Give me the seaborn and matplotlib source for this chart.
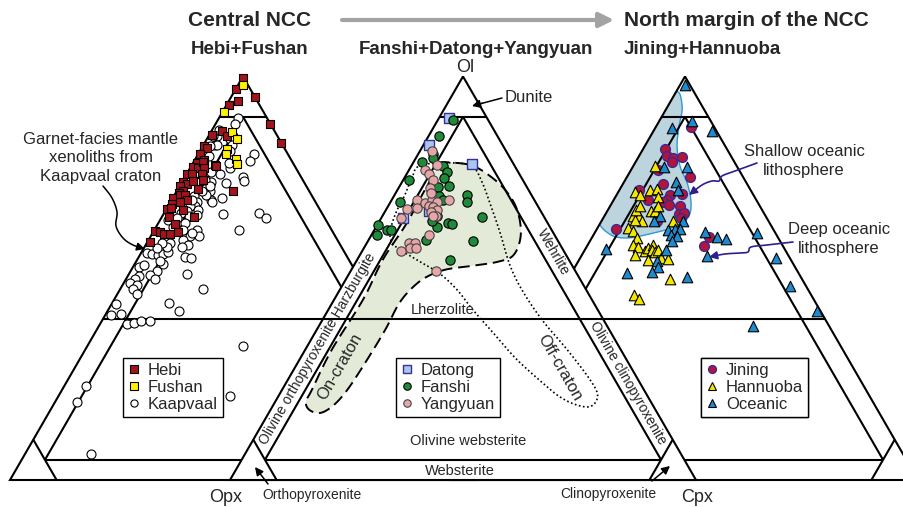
import numpy as np
import pandas as pd
import matplotlib
matplotlib.use("Agg")
import matplotlib.pyplot as plt
import seaborn as sns
from matplotlib.patches import Polygon
from matplotlib.lines import Line2D

sns.set_style("white")
plt.rcParams["font.family"] = ["Liberation Sans", "DejaVu Sans"]

# ---------------------------------------------------------------- data
# modal compositions in percent: olivine (Ol) and clinopyroxene (Cpx);
# orthopyroxene is the remainder (Opx = 100 - Ol - Cpx)

# Central NCC: Hebi + Fushan, with Kaapvaal garnet-facies xenoliths
hebi_ol = [99.5, 97.0, 94.0, 93.0, 94.8, 88.3, 83.6, 85.6, 86.4, 85.2, 82.7, 82.3, 78.0,
           80.9, 78.6, 79.4, 77.6, 77.3, 78.7, 77.3, 77.9, 75.8, 75.7, 75.7, 73.8, 73.4,
           74.0, 74.3, 72.8, 71.5, 72.2, 71.1, 70.0, 70.7, 70.7, 69.5, 68.4, 69.0, 67.2,
           67.4, 67.0, 65.2, 65.1, 63.4, 61.8, 61.4, 61.0, 61.0, 61.5, 58.9, 71.7]
hebi_cpx = [0.3, 0.0, 1.9, 0.5, 5.2, 11.6, 16.4, 0.5, 2.3, 3.9, 0.2, 1.1, 5.0,
            0.4, 0.8, 1.9, 0.5, 1.7, 2.0, 2.9, 5.3, 0.1, 1.3, 3.4, 0.3, 1.3,
            2.3, 4.3, 0.1, 1.4, 4.3, 0.8, 0.0, 1.1, 2.1, 3.2, 0.5, 2.0, 0.0,
            0.9, 3.7, 1.6, 6.9, 3.7, 0.2, 1.5, 2.6, 3.8, 5.2, 0.6, 12.1]

fushan_ol = [98.0, 91.1, 86.3, 84.4, 82.1, 80.8, 79.6, 78.3]
fushan_cpx = [1.0, 0.4, 4.5, 6.6, 5.5, 5.9, 8.7, 9.6]

kaapvaal_ol = [89.7, 88.3, 86.8, 85.2, 82.9, 80.9, 79.0, 77.3, 75.9, 75.2, 74.2, 73.6, 73.8,
               70.0, 69.5, 68.9, 65.9, 66.2, 64.9, 62.0, 62.0, 60.4, 56.2, 56.1, 55.8, 56.1,
               56.6, 55.3, 55.0, 53.6, 52.9, 53.3, 51.9, 50.9, 49.8, 50.6, 49.8, 48.8, 48.4,
               47.3, 46.1, 51.1, 47.4, 43.8, 42.0, 43.7, 41.2, 40.8, 38.7, 38.9, 39.3, 39.5,
               33.3, 20.7, 23.4, 19.4, 6.5,
               72.4, 71.5, 70.7, 70.3, 69.0, 67.8, 67.0, 67.8, 66.6, 65.7, 65.3, 64.1, 63.7,
               60.4, 59.5, 58.3, 57.7, 58.7, 57.7, 58.7, 57.5, 54.2,
               81.5, 80.2, 77.7, 76.3, 75.7, 74.4, 72.8, 71.5, 69.5, 66.2, 64.9, 64.5, 62.8,
               62.0, 61.2, 85.2, 84.4, 83.1, 81.5, 78.6, 85.2, 83.1, 82.7]
kaapvaal_cpx = [4.0, 4.1, 1.5, 1.8, 2.5, 12.0, 11.9, 8.6, 7.1, 12.3, 13.2, 9.5, 6.2,
                10.4, 8.3, 8.9, 12.8, 20.4, 22.5, 18.1, 9.1, 10.4, 1.2, 2.4, 3.9, 4.8,
                5.7, 9.9, 11.3, 6.1, 1.3, 2.2, 5.5, 4.6, 6.2, 2.4, 1.9, 1.4, 3.0,
                2.8, 4.1, 12.4, 17.7, 12.2, 15.3, 1.0, 3.2, 1.2, 5.7, 7.2, 8.5, 10.3,
                33.3, 36.9, 4.6, 4.6, 14.1,
                5.8, 7.2, 6.7, 4.4, 5.6, 5.8, 6.9, 4.7, 4.6, 7.2, 5.8, 4.4, 5.7,
                8.4, 7.4, 9.1, 8.0, 5.0, 4.8, 3.2, 2.7, 5.1,
                1.3, 2.7, 2.6, 4.9, 2.9, 4.6, 6.5, 5.4, 4.2, 3.7, 3.3, 1.7, 3.6,
                6.2, 8.4, 5.3, 5.0, 6.0, 6.5, 7.8, 1.0, 2.8, 1.6]

# Central NCC: Fanshi + Datong + Yangyuan
datong_ol = [89.6, 83.0, 78.2, 64.9, 66.7]
datong_cpx = [2.3, 1.1, 12.8, 4.7, 9.4]

fanshi_ol = [89.1, 85.3, 80.9, 79.8, 78.8, 77.7, 76.3, 74.9, 74.4, 72.8, 72.6, 70.3, 69.5,
             70.7, 69.0, 68.9, 65.1, 63.7, 63.4, 62.7, 64.1, 63.1, 61.9, 62.0, 60.8, 59.4,
             59.1, 54.5, 65.5]
fanshi_cpx = [3.4, 2.1, 3.1, 3.7, 1.7, 6.9, 8.4, 8.5, 1.2, 10.7, 8.4, 9.8, 11.0,
              15.5, 16.4, 2.1, 21.5, 15.0, 15.9, 13.1, 11.4, 0.3, 2.7, 3.5, 1.1, 12.4,
              22.5, 20.0, 11.7]

yangyuan_ol = [81.4, 78.1, 76.9, 75.7, 74.4, 72.4, 69.5, 68.6, 69.3, 69.0, 69.5, 67.8, 67.7,
               67.0, 66.5, 65.3, 67.4, 64.9, 60.8, 58.7, 58.8, 57.4, 57.5, 56.8, 51.9, 67.2,
               65.5, 71.1]
yangyuan_cpx = [2.7, 5.4, 3.4, 4.9, 6.4, 6.8, 5.4, 7.5, 8.6, 9.9, 12.2, 8.7, 9.8,
                10.9, 9.9, 11.5, 6.4, 4.2, 12.2, 9.0, 10.4, 9.9, 11.2, 8.4, 18.2, 4.3,
                10.9, 7.5]

# On-craton and off-craton fields (outline vertices, Ol / Cpx %)
on_craton_ol = [78.6, 78.6, 77.9, 75.7, 71.9, 67.0, 60.8, 55.8, 54.1, 53.1, 52.1, 50.1, 47.1,
                43.4, 37.2, 29.3, 22.3, 18.4, 16.6, 17.4, 19.4, 22.3, 32.3, 44.7, 54.6, 63.3,
                70.7, 76.9]
on_craton_cpx = [5.3, 9.0, 13.0, 17.5, 23.1, 28.1, 32.0, 33.0, 30.5, 25.6, 20.1, 16.8, 15.1,
                 14.4, 14.7, 14.5, 14.0, 12.9, 11.0, 8.3, 6.6, 6.4, 5.7, 6.2, 5.5, 6.1,
                 5.9, 5.8]
off_craton_ol = [77.9, 78.6, 77.7, 73.9, 67.7, 61.3, 53.3, 47.1, 39.7, 32.3, 25.6, 21.6, 19.1,
                 18.1, 18.9, 20.6, 23.1, 29.8, 36.5, 42.2, 47.1, 51.1, 54.1, 57.1, 58.8, 61.5,
                 66.2, 70.7, 74.9]
off_craton_cpx = [1.8, 7.9, 13.1, 17.1, 22.2, 27.3, 33.4, 39.1, 47.1, 56.2, 64.0, 68.0, 68.8,
                  67.6, 64.2, 60.5, 56.5, 46.7, 38.2, 31.0, 25.2, 19.5, 13.7, 7.9, 5.4, 3.6,
                  2.5, 2.2, 1.6]

# North margin: Jining + Hannuoba, with oceanic peridotites
jining_ol = [87.4, 82.0, 80.3, 79.8, 78.7, 80.1, 75.2, 76.9, 73.4, 71.8, 69.5, 70.7, 69.3,
             68.8, 68.1, 68.0, 70.9, 66.0, 66.1, 64.9, 64.3, 62.3, 60.1, 58.1]
jining_cpx = [7.5, 4.8, 6.0, 7.6, 7.8, 9.4, 13.4, 5.7, 8.6, 4.3, 7.4, 11.4, 11.4,
              10.9, 12.5, 14.9, 14.0, 15.7, 16.8, 16.6, 11.8, 4.0, 25.0, 25.0]

hannuoba_ol = [77.7, 71.4, 70.7, 71.9, 72.2, 70.2, 65.4, 65.3, 64.1, 64.5, 66.6, 66.6, 67.8,
               64.3, 62.4, 61.6, 60.0, 58.3, 57.7, 56.8, 57.5, 58.3, 56.9, 56.4, 57.1, 54.6,
               55.0, 54.8, 49.9, 55.8, 45.9, 44.9, 67.0, 67.8]
hannuoba_cpx = [4.7, 3.6, 5.1, 6.6, 7.9, 9.2, 6.2, 7.5, 8.7, 7.0, 9.3, 10.3, 10.4,
                15.3, 6.6, 8.1, 9.8, 9.6, 11.1, 13.0, 13.4, 13.9, 14.4, 15.4, 15.7, 14.8,
                17.4, 19.0, 21.8, 11.4, 16.1, 17.6, 6.0, 6.4]

oceanic_ol = [97.8, 88.9, 86.6, 87.1, 77.6, 77.6, 73.8, 71.9, 64.1, 65.3, 64.1, 62.0, 62.2,
              62.2, 60.8, 60.4, 59.1, 61.4, 60.3, 59.8, 55.6, 56.9, 54.2, 52.8, 51.5, 51.3,
              50.4, 57.3, 61.2, 54.9, 48.1, 41.8, 38.2]
oceanic_cpx = [1.1, 7.1, 12.6, 3.6, 11.6, 6.8, 11.2, 12.5, 17.6, 12.0, 11.2, 15.4, 16.8,
               17.8, 16.7, 18.0, 17.7, 23.6, 26.8, 29.0, 26.9, 17.4, 16.8, 17.9, 17.1, 11.8,
               25.3, 4.5, 34.8, 42.0, 48.5, 57.4, 45.4]

# Shallow oceanic lithosphere field (curved edge; closes along the Ol-Opx side)
shallow_ol = [96.3, 95.5, 91.8, 87.6, 82.6, 77.7, 73.7, 69.5, 66.2, 64.0, 62.3, 61.0, 60.0,
              60.3, 61.8, 63.3]
shallow_cpx = [0.0, 1.2, 3.5, 4.9, 7.0, 10.1, 13.6, 16.5, 18.0, 17.8, 15.6, 12.0, 8.2,
               4.8, 1.9, 0.0]

# ---------------------------------------------------------------- geometry
SIDE = 466.0
HEIGHT = SIDE * np.sqrt(3) / 2
BASE = 480.0
X_LEFT, X_MID, X_RIGHT = 10.0, 230.0, 452.0


def tern(ol, cpx, x0):
    ol = np.asarray(ol, float)
    cpx = np.asarray(cpx, float)
    x = x0 + (cpx + ol / 2) / 100 * SIDE
    y = BASE - ol / 100 * HEIGHT
    return x, y


def catmull(pts, n=10, closed=True):
    pts = np.asarray(pts, float)
    N = len(pts)
    out = []
    rng = range(N) if closed else range(N - 1)
    for i in rng:
        if closed:
            p0, p1, p2, p3 = pts[(i - 1) % N], pts[i], pts[(i + 1) % N], pts[(i + 2) % N]
        else:
            p0 = pts[max(i - 1, 0)]
            p1, p2 = pts[i], pts[i + 1]
            p3 = pts[min(i + 2, N - 1)]
        for t in np.linspace(0, 1, n, endpoint=False):
            t2, t3 = t * t, t * t * t
            out.append(0.5 * ((2 * p1) + (-p0 + p2) * t + (2 * p0 - 5 * p1 + 4 * p2 - p3) * t2
                              + (-p0 + 3 * p1 - 3 * p2 + p3) * t3))
    if not closed:
        out.append(pts[-1])
    return np.array(out)


fig = plt.figure(figsize=(9.04, 5.07), dpi=100)
ax = fig.add_axes([0, 0, 1, 1])

LW = 1.5
GRID = [
    [(100, 0), (0, 0), (0, 100), (100, 0)],   # outline
    [(90, 0), (90, 10)],                      # dunite
    [(40, 0), (40, 60)],                      # peridotite / pyroxenite
    [(5, 5), (5, 90)],                        # websterite
    [(90, 5), (5, 5)],                        # 5 % Cpx
    [(90, 5), (5, 90)],                       # 5 % Opx
    [(0, 10), (10, 0)],                       # orthopyroxenite
    [(0, 90), (10, 90)],                      # clinopyroxenite
]


def draw_grid(x0, z, fill=False):
    if fill:
        xs, ys = tern([100, 0, 0], [0, 0, 100], x0)
        ax.add_patch(Polygon(np.column_stack([xs, ys]), closed=True, facecolor="white",
                             edgecolor="none", zorder=z - 0.5))
    for seg in GRID:
        ol, cpx = zip(*seg)
        xs, ys = tern(ol, cpx, x0)
        ax.plot(xs, ys, color="black", lw=LW, zorder=z, solid_capstyle="butt",
                solid_joinstyle="miter")


# shallow oceanic field sits under the right-hand grid
sx, sy = tern(shallow_ol, shallow_cpx, X_RIGHT)
curve = catmull(np.column_stack([sx, sy]), n=10, closed=False)
ax.add_patch(Polygon(curve, closed=True, facecolor="#bcd4de", edgecolor="none", zorder=0.5))
ax.plot(curve[:, 0], curve[:, 1], color="#2a9ad6", lw=1.0, zorder=0.6)

draw_grid(X_LEFT, 1)
draw_grid(X_RIGHT, 1)
draw_grid(X_MID, 3, fill=True)

# cratonic fields in the middle diagram
ox, oy = tern(on_craton_ol, on_craton_cpx, X_MID)
on_curve = catmull(np.column_stack([ox, oy]), n=10)
ax.add_patch(Polygon(on_curve, closed=True, facecolor="#e3ebd8", edgecolor="black", lw=1.4,
                     linestyle=(0, (6, 3)), zorder=2.8))
fx, fy = tern(off_craton_ol, off_craton_cpx, X_MID)
off_curve = catmull(np.column_stack([fx, fy]), n=10)
ax.add_patch(Polygon(off_curve, closed=True, facecolor="none", edgecolor="black", lw=1.2,
                     linestyle=(0, (1, 1.5)), zorder=2.9))


def scatter(ol, cpx, x0, marker, face, edge, s, lw, z):
    x, y = tern(ol, cpx, x0)
    df = pd.DataFrame({"x": x, "y": y})
    sns.scatterplot(data=df, x="x", y="y", ax=ax, marker=marker, color=face,
                    edgecolor=edge, s=s, linewidth=lw, zorder=z, legend=False)


STYLE = {
    "Hebi": ("s", "#a3141b", "black", 40, 0.8),
    "Fushan": ("s", "#fff200", "black", 40, 0.8),
    "Kaapvaal": ("o", "white", "black", 42, 0.8),
    "Datong": ("s", "#a7c7ef", "#3b2f96", 55, 1.0),
    "Fanshi": ("o", "#1f8a3a", "black", 45, 0.8),
    "Yangyuan": ("o", "#e6a6a8", "#444444", 45, 0.8),
    "Jining": ("o", "#b3143c", "#3d2a8f", 50, 1.0),
    "Hannuoba": ("^", "#f3e600", "black", 58, 0.8),
    "Oceanic": ("^", "#1e8bd0", "black", 58, 0.8),
}

scatter(kaapvaal_ol, kaapvaal_cpx, X_LEFT, *STYLE["Kaapvaal"], 5)
scatter(hebi_ol, hebi_cpx, X_LEFT, *STYLE["Hebi"], 6)
scatter(fushan_ol, fushan_cpx, X_LEFT, *STYLE["Fushan"], 7)
scatter(datong_ol, datong_cpx, X_MID, *STYLE["Datong"], 5)
scatter(fanshi_ol, fanshi_cpx, X_MID, *STYLE["Fanshi"], 6)
scatter(yangyuan_ol, yangyuan_cpx, X_MID, *STYLE["Yangyuan"], 7)
scatter(jining_ol, jining_cpx, X_RIGHT, *STYLE["Jining"], 5)
scatter(hannuoba_ol, hannuoba_cpx, X_RIGHT, *STYLE["Hannuoba"], 6)
scatter(oceanic_ol, oceanic_cpx, X_RIGHT, *STYLE["Oceanic"], 7)


def legend(names, corner):
    handles = []
    for nm in names:
        m, fc, ec, s, lw = STYLE[nm]
        handles.append(Line2D([], [], ls="", marker=m, markerfacecolor=fc,
                              markeredgecolor=ec, markersize=np.sqrt(s) * 0.8,
                              markeredgewidth=lw, label=nm))
    leg = ax.legend(handles=handles, loc="upper left", bbox_to_anchor=corner,
                    bbox_transform=ax.transData, fontsize=12, frameon=True,
                    fancybox=False, edgecolor="black", framealpha=1,
                    handlelength=0.7, handletextpad=0.5, borderpad=0.3,
                    labelspacing=0.12, borderaxespad=0)
    leg.get_frame().set_linewidth(1.0)
    leg.set_zorder(10)
    ax.add_artist(leg)


legend(["Hebi", "Fushan", "Kaapvaal"], (123, 358))
legend(["Datong", "Fanshi", "Yangyuan"], (396, 358))
legend(["Jining", "Hannuoba", "Oceanic"], (701, 358))

# ---------------------------------------------------------------- headings
ax.text(250, 20, "Central NCC", fontsize=15, fontweight="bold", ha="center", va="center")
ax.text(746, 20, "North margin of the NCC", fontsize=15, fontweight="bold",
        ha="center", va="center")
ax.annotate("", xy=(614, 20), xytext=(342, 20),
            arrowprops=dict(arrowstyle="-|>", color="#a3a3a3", lw=3, mutation_scale=22,
                            shrinkA=0, shrinkB=0))
ax.text(250, 50, "Hebi+Fushan", fontsize=13.5, fontweight="bold", ha="center", va="center")
ax.text(476, 50, "Fanshi+Datong+Yangyuan", fontsize=13.5, fontweight="bold",
        ha="center", va="center")
ax.text(702, 50, "Jining+Hannuoba", fontsize=13.5, fontweight="bold", ha="center", va="center")

# vertex labels
ax.text(465, 68, "Ol", fontsize=13, ha="center", va="center")
ax.text(226, 497, "Opx", fontsize=13, ha="center", va="center")
ax.text(697, 497, "Cpx", fontsize=13, ha="center", va="center")

# rock names in the middle diagram
ax.text(443, 310, "Lherzolite", fontsize=10.5, ha="center", va="center", zorder=8)
ax.text(468, 441, "Olivine websterite", fontsize=10.5, ha="center", va="center", zorder=8)
ax.text(460, 471, "Websterite", fontsize=10.5, ha="center", va="center", zorder=8)
ax.text(529, 98, "Dunite", fontsize=12, ha="center", va="center", zorder=8)
ax.text(312, 495, "Orthopyroxenite", fontsize=10, ha="center", va="center")
ax.text(608, 494, "Clinopyroxenite", fontsize=10, ha="center", va="center")

tx, ty = tern(32.5, 2.5, X_MID)
ax.text(tx, ty, "Olivine orthopyroxenite Harzburgite", fontsize=10, rotation=60,
        rotation_mode="anchor", ha="center", va="center", zorder=8)
tx, ty = tern(56.5, 41.0, X_MID)
ax.text(tx, ty, "Wehrlite", fontsize=10, rotation=-60, rotation_mode="anchor",
        ha="center", va="center", zorder=8)
tx, ty = tern(24.0, 73.5, X_MID)
ax.text(tx, ty, "Olivine clinopyroxenite", fontsize=10, rotation=-60,
        rotation_mode="anchor", ha="center", va="center", zorder=8)
ax.text(340, 367, "On-craton", fontsize=12, rotation=60, rotation_mode="anchor",
        ha="center", va="center", zorder=8)
ax.text(560, 368, "Off-craton", fontsize=12, rotation=-60, rotation_mode="anchor",
        ha="center", va="center", zorder=8)


def pointer(pts, color, lw=1.1, scale=12, n=8):
    c = catmull(pts, n=n, closed=False)
    ax.plot(c[:-2, 0], c[:-2, 1], color=color, lw=lw, zorder=9)
    ax.annotate("", xy=tuple(c[-1]), xytext=tuple(c[-4]),
                arrowprops=dict(arrowstyle="-|>", color=color, lw=lw,
                                mutation_scale=scale, shrinkA=0, shrinkB=0), zorder=9)


pointer([(502, 98), (472, 106)], "black")
pointer([(268, 484), (255, 467)], "black")
pointer([(652, 481), (670, 466)], "black")

# annotations
ax.text(101, 158, "Garnet-facies mantle\nxenoliths from\nKaapvaal craton", fontsize=12,
        ha="center", va="center", linespacing=1.32)
pointer([(103, 186), (112, 198), (117, 212), (116, 226), (123, 238), (133, 245), (145, 249)],
        "black")

blue = "#2d1f8c"
ax.text(804, 161, "Shallow oceanic\nlithosphere", fontsize=12, ha="center", va="center",
        linespacing=1.32)
pointer([(757, 163), (735, 171), (722, 176), (719, 181), (712, 181), (702, 185), (689, 195)],
        blue, lw=1.2)
ax.text(839, 239, "Deep oceanic\nlithosphere", fontsize=12, ha="center", va="center",
        linespacing=1.32)
pointer([(793, 242), (767, 245), (751, 247), (748, 252), (740, 253), (725, 254), (709, 257)],
        blue, lw=1.2)

ax.set_xlim(0, 904)
ax.set_ylim(507, 0)
ax.set_axis_off()
fig.savefig("out.png", dpi=100)
